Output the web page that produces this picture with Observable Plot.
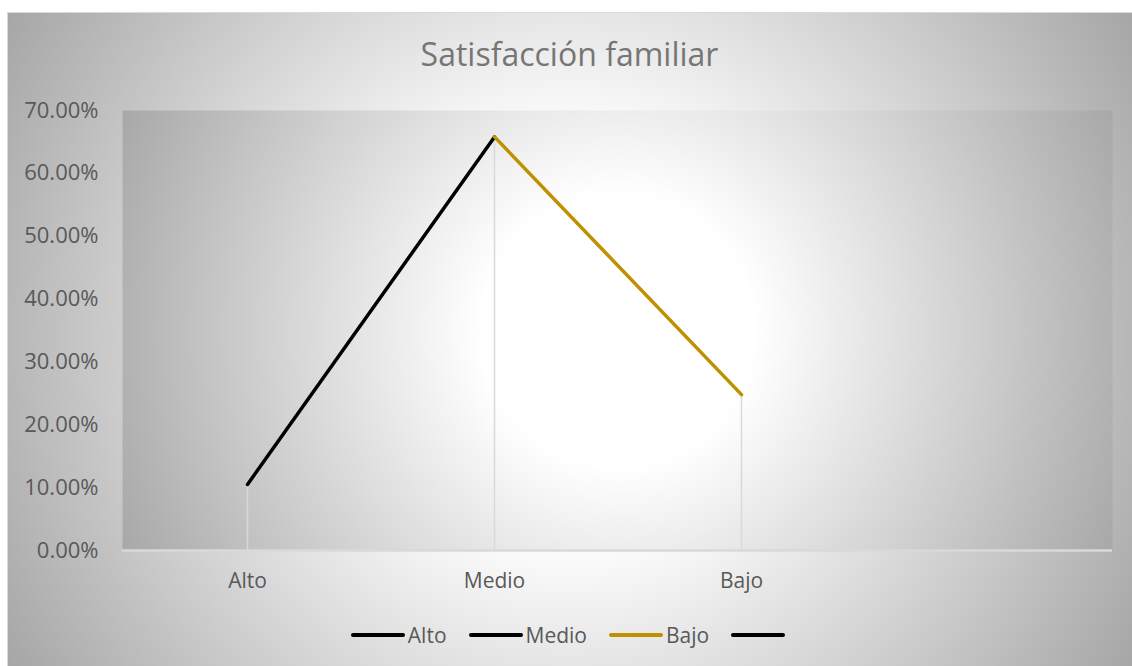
<!DOCTYPE html>
<html>
<head>
<meta charset="utf-8">
<script src="https://cdn.jsdelivr.net/npm/d3@7"></script>
<script src="https://cdn.jsdelivr.net/npm/@observablehq/plot@0.6"></script>
<style>
  html, body { margin: 0; padding: 0; background: #ffffff; }
  body { width: 1132px; height: 666px; overflow: hidden; position: relative; font-family: "Open Sans", sans-serif; }
  #chart {
    position: absolute; left: 7px; top: 12px; width: 1124px; height: 653px;
    border: 1px solid #d9d9d9;
    background: radial-gradient(circle farthest-corner at 50% 50%, #ffffff 0%, #ffffff 30%, #a6a6a6 100%);
  }
  #title {
    position: absolute; left: 7px; width: 1125px; top: 38px; text-align: center;
    font-size: 32px; line-height: 32px; color: #767676;
  }
  #plot { position: absolute; left: 0; top: 90px; }
  #legend {
    position: absolute; left: 7px; width: 1125px; top: 620px; height: 30px;
    display: flex; justify-content: center; align-items: center;
    font-size: 21px; color: #595959;
  }
  .item { display: flex; align-items: center; margin: 0 11px; }
  .swatch { width: 54px; height: 4px; border-radius: 2px; margin-right: 3px; }
</style>
</head>
<body>
<div id="chart"></div>
<div id="title">Satisfacción familiar</div>
<div id="plot"></div>
<div id="legend"></div>
<script>
// ---- data ----
const categories = ["Alto", "Medio", "Bajo", ""];        // 4th category is empty in the source
const pointCategories = ["Alto", "Medio", "Bajo"];
const values = [0.105, 0.658, 0.248];
const segmentColors = ["#000000", "#bf9000"];            // Alto→Medio, Medio→Bajo
const yTicks = [0, 0.1, 0.2, 0.3, 0.4, 0.5, 0.6, 0.7];
const legendLabels = ["Alto", "Medio", "Bajo", ""];
const legendColors = ["#000000", "#000000", "#bf9000", "#000000"];

const points = pointCategories.map((c, i) => ({cat: c, value: values[i]}));
const segments = d3.pairs(points).map(([a, b], i) => ({a, b, color: segmentColors[i]}));

const fmt = d3.format(".2%");

const plot = Plot.plot({
  width: 1132,
  height: 510,
  marginLeft: 122,
  marginRight: 20,
  marginTop: 20,
  marginBottom: 50,
  style: {background: "transparent", fontFamily: "'Open Sans', sans-serif", fontSize: "21px", color: "#595959"},
  x: {type: "point", domain: categories, padding: 0.5, label: null},
  y: {domain: [0, 0.7], label: null},
  color: {type: "identity"},
  marks: [
    Plot.frame({fill: "url(#plotAreaGrad)", stroke: "none"}),
    Plot.axisY({ticks: yTicks, tickFormat: fmt, tickSize: 0, tickPadding: 24, fill: "#595959", fontSize: 22, label: null}),
    Plot.axisX({tickSize: 0, tickPadding: 23, fill: "#595959", fontSize: 21, label: null}),
    Plot.ruleY([0], {stroke: "#d9d9d9", strokeWidth: 2.5}),
    Plot.ruleX(points, {x: "cat", y1: 0, y2: "value", stroke: "#d9d9d9", strokeWidth: 1.5}),
    Plot.link(segments, {
      x1: d => d.a.cat, y1: d => d.a.value,
      x2: d => d.b.cat, y2: d => d.b.value,
      stroke: "color", strokeWidth: 3.5, strokeLinecap: "round"
    })
  ]
});

// plot-area radial gradient, placed from the plot's own scales
const xr = plot.scale("x").range, yr = plot.scale("y").range;
const cx = (xr[0] + xr[1]) / 2, cy = (yr[0] + yr[1]) / 2;
const r = Math.hypot((xr[1] - xr[0]) / 2, (yr[0] - yr[1]) / 2);
const defs = d3.select(plot).insert("defs", ":first-child");
const g = defs.append("radialGradient").attr("id", "plotAreaGrad")
  .attr("gradientUnits", "userSpaceOnUse").attr("cx", cx).attr("cy", cy).attr("r", r);
g.append("stop").attr("offset", "0%").attr("stop-color", "#ffffff");
g.append("stop").attr("offset", "25%").attr("stop-color", "#ffffff");
g.append("stop").attr("offset", "100%").attr("stop-color", "#a8a8a8");

document.getElementById("plot").appendChild(plot);

// legend
const legend = d3.select("#legend");
legendLabels.forEach((lab, i) => {
  const it = legend.append("div").attr("class", "item");
  it.append("div").attr("class", "swatch").style("background", legendColors[i]);
  if (lab) it.append("span").text(lab);
});
</script>
</body>
</html>
